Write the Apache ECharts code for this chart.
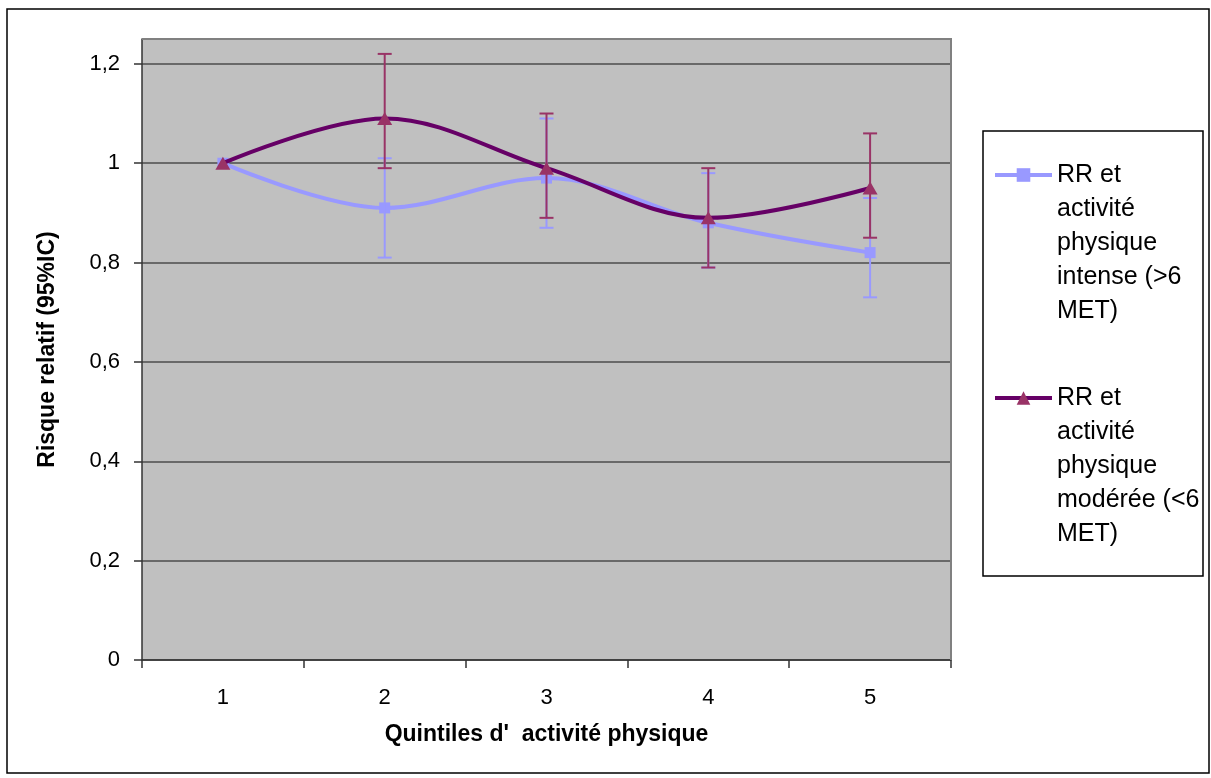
<!DOCTYPE html>
<html>
<head>
<meta charset="utf-8">
<script src="https://cdn.jsdelivr.net/npm/echarts@6/dist/echarts.min.js"></script>
<style>
  html, body { margin: 0; padding: 0; background: #fff; }
  #chart { width: 1211px; height: 778px; }
</style>
</head>
<body>
<div id="chart"></div>
<script>
// Quintiles of physical activity and relative risk with 95% confidence intervals
const categories = ['1', '2', '3', '4', '5'];

const intenseName = 'RR et\nactivité\nphysique\nintense (>6\nMET)';
const intenseRR   = [1.00, 0.91, 0.97, 0.88, 0.82];
const intenseLow  = [null, 0.81, 0.87, 0.79, 0.73];
const intenseHigh = [null, 1.01, 1.09, 0.98, 0.93];

const moderateName = 'RR et\nactivité\nphysique\nmodérée (<6\nMET)';
const moderateRR   = [1.00, 1.09, 0.99, 0.89, 0.95];
const moderateLow  = [null, 0.99, 0.89, 0.79, 0.85];
const moderateHigh = [null, 1.22, 1.10, 0.99, 1.06];

const yTicks = [0, 0.2, 0.4, 0.6, 0.8, 1.0, 1.2];

// plot frame
const W = 1211, H = 778;
const plot = { left: 142, right: 951, top: 39, bottom: 660 };
const FONT = 'Liberation Sans, Arial, sans-serif';

function errorData(low, high) {
  const out = [];
  for (let i = 0; i < categories.length; i++) {
    if (low[i] != null && high[i] != null) out.push([i, low[i], high[i]]);
  }
  return out;
}

function errorSeries(name, low, high, color, z) {
  return {
    type: 'custom',
    name: name + ' IC',
    z: z,
    silent: true,
    encode: { x: 0, y: [1, 2] },
    data: errorData(low, high),
    renderItem: function (params, api) {
      const x = api.value(0);
      const pLo = api.coord([x, api.value(1)]);
      const pHi = api.coord([x, api.value(2)]);
      const cap = 7;
      const style = { stroke: color, lineWidth: 2, fill: null };
      return {
        type: 'group',
        children: [
          { type: 'line', shape: { x1: pLo[0], y1: pLo[1], x2: pHi[0], y2: pHi[1] }, style: style },
          { type: 'line', shape: { x1: pHi[0] - cap, y1: pHi[1], x2: pHi[0] + cap, y2: pHi[1] }, style: style },
          { type: 'line', shape: { x1: pLo[0] - cap, y1: pLo[1], x2: pLo[0] + cap, y2: pLo[1] }, style: style }
        ]
      };
    }
  };
}

const chart = echarts.init(document.getElementById('chart'), null, { renderer: 'canvas' });

chart.setOption({
  backgroundColor: '#ffffff',
  animation: false,
  textStyle: { fontFamily: FONT },
  grid: {
    left: plot.left,
    right: W - plot.right,
    top: plot.top,
    bottom: H - plot.bottom,
    show: true,
    backgroundColor: '#c0c0c0',
    borderWidth: 0
  },
  xAxis: {
    type: 'category',
    data: categories,
    boundaryGap: true,
    name: "Quintiles d'  activité physique",
    nameLocation: 'middle',
    nameGap: 63,
    nameTextStyle: { fontSize: 23, fontWeight: 'bold', color: '#000', fontFamily: FONT },
    axisLine: { lineStyle: { color: '#333', width: 1.5 } },
    axisTick: { show: true, length: 8, inside: false, alignWithLabel: false, lineStyle: { color: '#333', width: 1.5 } },
    axisLabel: { fontSize: 22, color: '#000', margin: 27, fontFamily: FONT },
    splitLine: { show: false }
  },
  yAxis: {
    type: 'value',
    min: 0,
    max: 1.25,
    interval: 0.2,
    name: 'Risque relatif (95%IC)',
    nameLocation: 'middle',
    nameGap: 83,
    nameTextStyle: { fontSize: 23, fontWeight: 'bold', color: '#000', fontFamily: FONT },
    axisLine: { show: true, lineStyle: { color: '#333', width: 1.5 } },
    axisTick: { show: true, length: 8, inside: false, customValues: yTicks, lineStyle: { color: '#333', width: 1.5 } },
    axisLabel: {
      fontSize: 22, color: '#000', margin: 22, fontFamily: FONT,
      customValues: yTicks,
      formatter: function (v) { return String(Math.round(v * 10) / 10).replace('.', ','); }
    },
    splitLine: { show: true, lineStyle: { color: '#4d4d4d', width: 1.5 } }
  },
  legend: {
    orient: 'vertical',
    left: 993,
    top: 22,
    padding: 0,
    itemWidth: 57,
    itemHeight: 17,
    itemGap: -83,
    selectedMode: false,
    data: [intenseName, moderateName],
    // leading blank lines keep the key symbol level with the first text line
    formatter: function (name) { return '\n\n\n\n' + name; },
    lineStyle: { width: 4 },
    textStyle: { fontSize: 25, lineHeight: 34, color: '#000', fontFamily: FONT }
  },
  graphic: [
    {
      type: 'rect', z: 0, silent: true,
      shape: { x: 7, y: 9, width: 1202, height: 764 },
      style: { fill: null, stroke: '#000', lineWidth: 1.5 }
    },
    {
      type: 'rect', z: 1, silent: true,
      shape: { x: 983, y: 131, width: 220, height: 445 },
      style: { fill: '#fff', stroke: '#000', lineWidth: 1.5 }
    },
    {
      type: 'polyline', z: 10, silent: true,
      shape: { points: [[plot.left, plot.top], [plot.right, plot.top], [plot.right, plot.bottom]] },
      style: { fill: null, stroke: '#808080', lineWidth: 2 }
    }
  ],
  series: [
    {
      name: intenseName,
      type: 'line',
      data: intenseRR,
      smooth: 0.35,
      symbol: 'rect',
      symbolSize: 11,
      z: 2,
      itemStyle: { color: '#9999ff' },
      lineStyle: { color: '#9999ff', width: 4 }
    },
    errorSeries('intense', intenseLow, intenseHigh, '#9999ff', 3),
    {
      name: moderateName,
      type: 'line',
      data: moderateRR,
      smooth: 0.35,
      symbol: 'triangle',
      symbolSize: [15, 13],
      z: 4,
      itemStyle: { color: '#993366' },
      lineStyle: { color: '#660066', width: 4 }
    },
    errorSeries('moderate', moderateLow, moderateHigh, '#993366', 5)
  ]
});
</script>
</body>
</html>
